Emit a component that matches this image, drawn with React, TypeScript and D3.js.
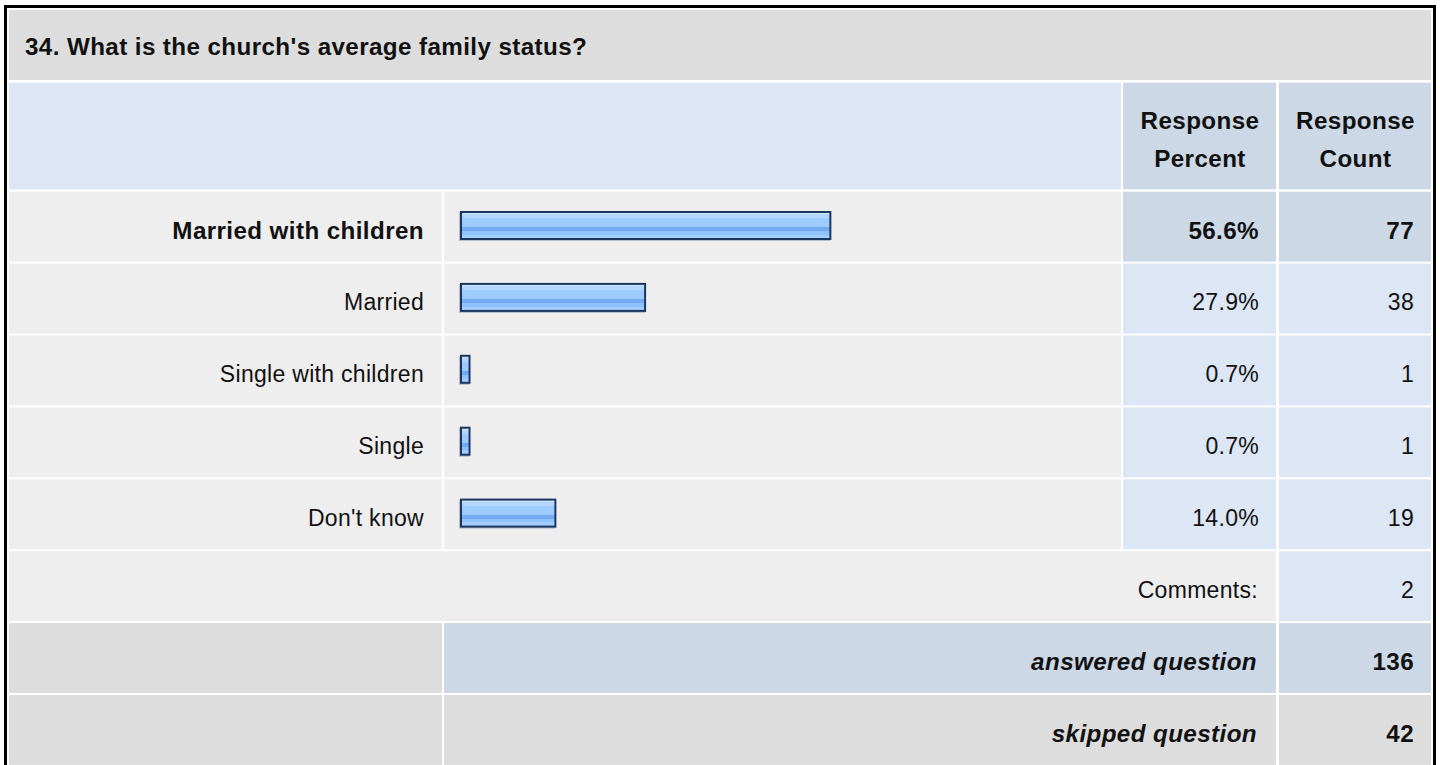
import React from "react";
import * as d3 from "d3";

const title = "34. What is the church's average family status?";
const headerPercent = ["Response", "Percent"];
const headerCount = ["Response", "Count"];
const categories = ["Married with children", "Married", "Single with children", "Single", "Don't know"];
const percents = [56.6, 27.9, 0.7, 0.7, 14.0];
const counts = [77, 38, 1, 1, 19];
const commentsLabel = "Comments:";
const commentsCount = 2;
const summaryLabels = ["answered question", "skipped question"];
const summaryValues = [136, 42];

const W = 1440;
const H = 765;
const FONT = "'Liberation Sans', Arial, Helvetica, sans-serif";

const C_GRAY = "#dddddd";
const C_LIGHT = "#eeeeee";
const C_BLUE = "#dce6f4";
const C_BLUE2 = "#ccd8e6";

export default function App() {
  const colLabel = [9, 442];
  const colBar = [444, 1121];
  const colPct = [1123, 1276];
  const colCnt = [1279, 1431];

  const rowY = d3.scaleLinear().domain([0, 8]).range([191.7, 191.7 + 71.9 * 8]);
  const rowH = 69.9;
  const barX = d3.scaleLinear().domain([0, 100]).range([0, 645.5]);
  const barLeft = 460;

  const boldStyle = { fontFamily: FONT, fontWeight: 700, fontSize: 24.2, letterSpacing: 0.4 } as const;
  const regStyle = { fontFamily: FONT, fontWeight: 400, fontSize: 23, letterSpacing: 0.3 } as const;

  const cell = (x: number[], y: number, h: number, fill: string, key: string) => (
    <rect key={key} x={x[0]} y={y} width={x[1] - x[0]} height={h} fill={fill} />
  );

  return (
    <svg
      width={W}
      height={H}
      style={{ position: "absolute", left: 0, top: 0, display: "block", background: "#ffffff" }}
    >
      <defs>
        <linearGradient id="barGrad" x1="0" y1="0" x2="0" y2="1">
          <stop offset="0" stopColor="#cde7ff" />
          <stop offset="0.08" stopColor="#cde7ff" />
          <stop offset="0.08" stopColor="#b3d8ff" />
          <stop offset="0.24" stopColor="#b3d8ff" />
          <stop offset="0.24" stopColor="#9ecbfe" />
          <stop offset="0.56" stopColor="#9ecbfe" />
          <stop offset="0.56" stopColor="#76aaf0" />
          <stop offset="0.72" stopColor="#76aaf0" />
          <stop offset="0.72" stopColor="#8ec2fe" />
          <stop offset="0.84" stopColor="#8ec2fe" />
          <stop offset="0.84" stopColor="#a2cfff" />
          <stop offset="1" stopColor="#a2cfff" />
        </linearGradient>
      </defs>
      <rect x={0} y={0} width={W} height={H} fill="#ffffff" />
      {/* outer frame */}
      <rect x={5.5} y={6.5} width={1429} height={820} fill="none" stroke="#000000" strokeWidth={3} />

      {/* title */}
      <rect x={9} y={10} width={1422} height={70} fill={C_GRAY} />
      <text x={25} y={54.5} style={boldStyle} fill="#111">{title}</text>

      {/* header */}
      <rect x={9} y={82.7} width={colBar[1] - 9} height={106.6} fill={C_BLUE} />
      {cell(colPct, 82.7, 106.6, C_BLUE2, "hp")}
      {cell(colCnt, 82.7, 106.6, C_BLUE2, "hc")}
      {headerPercent.map((t, i) => (
        <text key={"hpt" + i} x={(colPct[0] + colPct[1]) / 2 + 0.5} y={128.8 + i * 37.7} textAnchor="middle" style={boldStyle} fill="#111">{t}</text>
      ))}
      {headerCount.map((t, i) => (
        <text key={"hct" + i} x={(colCnt[0] + colCnt[1]) / 2 + 0.5} y={128.8 + i * 37.7} textAnchor="middle" style={boldStyle} fill="#111">{t}</text>
      ))}

      {/* data rows */}
      {categories.map((c, i) => {
        const y = rowY(i);
        const first = i === 0;
        const ts = first ? boldStyle : regStyle;
        const w = barX(percents[i]) + 6;
        const by = y + 19.3;
        return (
          <g key={"row" + i}>
            {cell(colLabel, y, rowH, C_LIGHT, "l")}
            {cell(colBar, y, rowH, C_LIGHT, "b")}
            {cell(colPct, y, rowH, first ? C_BLUE2 : C_BLUE, "p")}
            {cell(colCnt, y, rowH, first ? C_BLUE2 : C_BLUE, "c")}
            <text x={424} y={y + 46.8} textAnchor="end" style={ts} fill="#111">{c}</text>
            <rect x={barLeft - 1} y={by + 1} width={w} height={29} fill="#8797ad" opacity={0.55} />
            <rect x={barLeft + 1} y={by + 1} width={w - 2} height={27} fill="url(#barGrad)" stroke="#1d3660" strokeWidth={2} />
            <text x={1259} y={y + 46.8} textAnchor="end" style={ts} fill="#111">{percents[i].toFixed(1) + "%"}</text>
            <text x={1414} y={y + 46.8} textAnchor="end" style={ts} fill="#111">{counts[i]}</text>
          </g>
        );
      })}

      {/* comments row */}
      <g>
        <rect x={9} y={rowY(5)} width={colPct[1] - 9} height={rowH} fill={C_LIGHT} />
        {cell(colCnt, rowY(5), rowH, C_BLUE, "cc")}
        <text x={1258} y={rowY(5) + 46.8} textAnchor="end" style={regStyle} fill="#111">{commentsLabel}</text>
        <text x={1414} y={rowY(5) + 46.8} textAnchor="end" style={regStyle} fill="#111">{commentsCount}</text>
      </g>

      {/* summary rows */}
      {summaryLabels.map((s, i) => {
        const y = rowY(6 + i);
        const mid = i === 0 ? C_BLUE2 : C_GRAY;
        return (
          <g key={"sum" + i}>
            {cell(colLabel, y, rowH, C_GRAY, "sl")}
            <rect x={colBar[0]} y={y} width={colPct[1] - colBar[0]} height={rowH} fill={mid} />
            {cell(colCnt, y, rowH, mid, "sc")}
            <text x={1257} y={y + 46.5} textAnchor="end" style={{ ...boldStyle, fontStyle: "italic" }} fill="#111">{s}</text>
            <text x={1414} y={y + 46.5} textAnchor="end" style={boldStyle} fill="#111">{summaryValues[i]}</text>
          </g>
        );
      })}
    </svg>
  );
}
